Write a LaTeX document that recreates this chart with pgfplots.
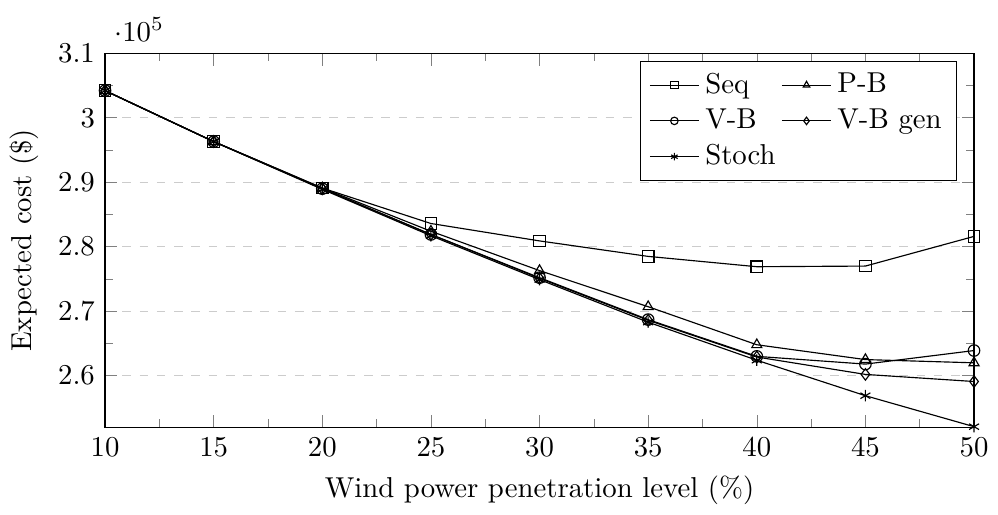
\documentclass[border=0pt]{standalone}
\usepackage{pgfplots}
\pgfplotsset{compat=1.18}
\begin{document}
\begin{tikzpicture}
\begin{axis}[
  scale only axis,
  width=302pt, height=130pt,
  xmin=10, xmax=50, ymin=252000, ymax=310000,
  xtick={10,15,...,50},
  minor x tick num=1, minor y tick num=1,
  ytick={260000,270000,280000,290000,300000,310000},
  ymajorgrids, grid style={dashed, gray!40},
  xlabel={Wind power penetration level (\%)},
  ylabel={Expected cost (\$)},
  legend columns=2,
  legend cell align=left,
  legend image post style={mark size=1.3pt},
  legend style={at={(0.98,0.98)}, anchor=north east},
]
\addplot[black, mark=square] coordinates {(10,304200) (15,296300) (20,289100) (25,283600) (30,280900) (35,278500) (40,276900) (45,277000) (50,281600)};
\addlegendentry{Seq}
\addplot[black, mark=triangle] coordinates {(10,304200) (15,296300) (20,289100) (25,282400) (30,276300) (35,270700) (40,264800) (45,262500) (50,262000)};
\addlegendentry{P-B}
\addplot[black, mark=o] coordinates {(10,304200) (15,296300) (20,289000) (25,281900) (30,275200) (35,268700) (40,263000) (45,261800) (50,263900)};
\addlegendentry{V-B}
\addplot[black, mark=diamond] coordinates {(10,304200) (15,296300) (20,289000) (25,281900) (30,275100) (35,268600) (40,262900) (45,260200) (50,259100)};
\addlegendentry{V-B gen}
\addplot[black, mark=asterisk] coordinates {(10,304200) (15,296300) (20,288900) (25,281700) (30,274900) (35,268300) (40,262400) (45,256900) (50,252100)};
\addlegendentry{Stoch}
\end{axis}
\path ([yshift=18.5pt]current axis.north);
\end{tikzpicture}
\end{document}
